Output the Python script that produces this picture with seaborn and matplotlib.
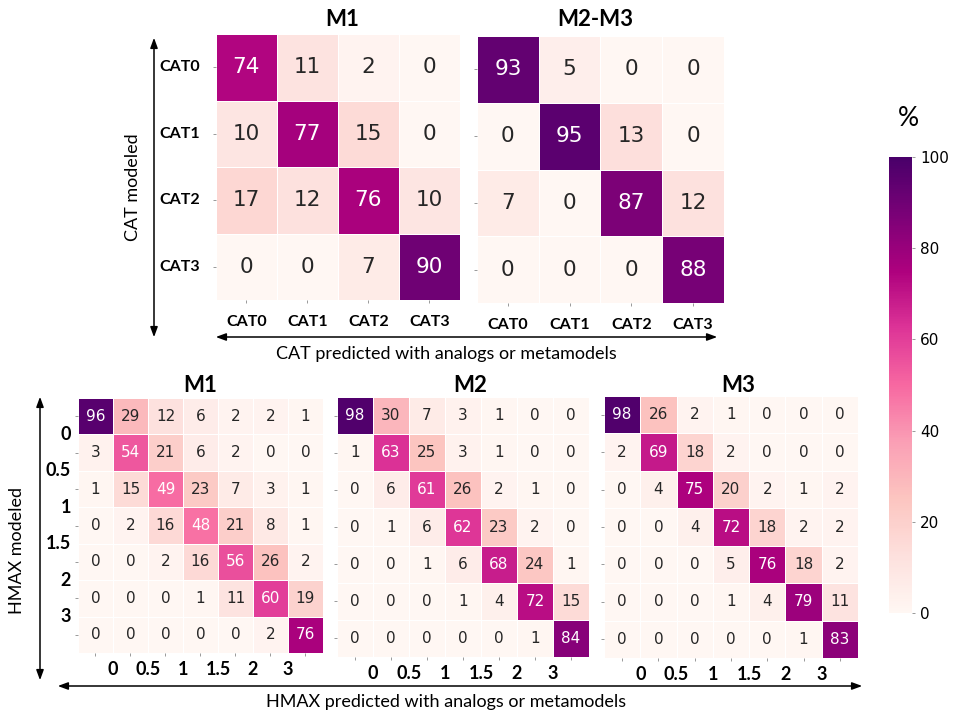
import numpy as np
import pandas as pd
import matplotlib
matplotlib.use('Agg')
import matplotlib.pyplot as plt
from matplotlib.patches import FancyArrowPatch
import seaborn as sns

# Category confusion matrices (%)
cat_labels = ['CAT0', 'CAT1', 'CAT2', 'CAT3']
cat_m1 = [[74, 11, 2, 0],
          [10, 77, 15, 0],
          [17, 12, 76, 10],
          [0, 0, 7, 90]]
cat_m23 = [[93, 5, 0, 0],
           [0, 95, 13, 0],
           [7, 0, 87, 12],
           [0, 0, 0, 88]]

# HMAX confusion matrices (%), labels sit on class boundaries
hmax_bounds = ['0', '0.5', '1', '1.5', '2', '3']
hmax_m1 = [[96, 29, 12, 6, 2, 2, 1],
           [3, 54, 21, 6, 2, 0, 0],
           [1, 15, 49, 23, 7, 3, 1],
           [0, 2, 16, 48, 21, 8, 1],
           [0, 0, 2, 16, 56, 26, 2],
           [0, 0, 0, 1, 11, 60, 19],
           [0, 0, 0, 0, 0, 2, 76]]
hmax_m2 = [[98, 30, 7, 3, 1, 0, 0],
           [1, 63, 25, 3, 1, 0, 0],
           [0, 6, 61, 26, 2, 1, 0],
           [0, 1, 6, 62, 23, 2, 0],
           [0, 0, 1, 6, 68, 24, 1],
           [0, 0, 0, 1, 4, 72, 15],
           [0, 0, 0, 0, 0, 1, 84]]
hmax_m3 = [[98, 26, 2, 1, 0, 0, 0],
           [2, 69, 18, 2, 0, 0, 0],
           [0, 4, 75, 20, 2, 1, 2],
           [0, 0, 4, 72, 18, 2, 2],
           [0, 0, 0, 5, 76, 18, 2],
           [0, 0, 0, 1, 4, 79, 11],
           [0, 0, 0, 0, 0, 1, 83]]

W, H = 954, 720
LAB = 'Lato'


def box(l, t, r, b):
    return [l / W, 1 - b / H, (r - l) / W, (b - t) / H]


def fx(x):
    return x / W


def fy(y):
    return 1 - y / H


fig = plt.figure(figsize=(W / 100, H / 100), dpi=100)

cax = fig.add_axes(box(889, 157, 912, 613))
kw = dict(cmap='RdPu', vmin=0, vmax=100, linewidths=0.6, linecolor='white')

# top row
ax1 = fig.add_axes(box(216, 34, 460, 300))
sns.heatmap(pd.DataFrame(cat_m1, index=cat_labels, columns=cat_labels), ax=ax1,
            annot=True, fmt='d', annot_kws={'size': 15.5}, cbar_ax=cax, **kw)
ax2 = fig.add_axes(box(477, 36, 724, 303))
sns.heatmap(pd.DataFrame(cat_m23, index=cat_labels, columns=cat_labels), ax=ax2,
            annot=True, fmt='d', annot_kws={'size': 15.5}, cbar=False, **kw)
for ax in (ax1, ax2):
    ax.set_xlabel('')
    ax.set_ylabel('')
    ax.tick_params(length=2.5, width=0.7, color='#999999')
    ax.set_xticklabels(cat_labels, rotation=0, fontfamily=LAB, fontweight='bold', fontsize=11.5)
    ax.tick_params(axis='x', pad=8)
ax1.set_yticklabels(cat_labels, rotation=0, fontfamily=LAB, fontweight='bold', fontsize=11.5)
ax1.tick_params(axis='y', pad=9)
ax2.set_yticklabels([])

# bottom row
bottom = []
for mat, rect in [(hmax_m1, box(78, 398, 323, 653)),
                  (hmax_m2, box(337, 397, 589, 657)),
                  (hmax_m3, box(604, 396, 858, 658))]:
    ax = fig.add_axes(rect)
    sns.heatmap(np.array(mat), ax=ax, annot=True, fmt='d', annot_kws={'size': 11},
                cbar=False, **kw)
    ax.set_xticklabels([])
    ax.set_yticklabels([])
    ax.tick_params(which='major', length=2.5, width=0.7, color='#999999')
    ax.set_xticks(np.arange(1, 7), hmax_bounds, minor=True)
    ax.tick_params(axis='x', which='minor', length=0, pad=6)
    for t in ax.get_xticklabels(minor=True):
        t.set_fontfamily(LAB)
        t.set_fontweight('bold')
        t.set_fontsize(13)
    bottom.append(ax)
bm1 = bottom[0]
bm1.set_yticks(np.arange(1, 7), hmax_bounds, minor=True)
bm1.tick_params(axis='y', which='minor', length=0, pad=5)
for t in bm1.get_yticklabels(minor=True):
    t.set_fontfamily(LAB)
    t.set_fontweight('bold')
    t.set_fontsize(13)
    t.set_verticalalignment('center')

# colorbar
cax.tick_params(labelsize=11, length=2.5, width=0.7, color='#999999')
cax.set_yticks([0, 20, 40, 60, 80, 100])
for s in cax.spines.values():
    s.set_visible(False)
fig.text(fx(908), fy(118), '%', ha='center', va='center', fontsize=19, fontfamily=LAB)

# titles
for txt, x, y in [('M1', 342, 19), ('M2-M3', 595, 19),
                  ('M1', 200, 386), ('M2', 470, 386), ('M3', 738, 386)]:
    fig.text(fx(x), fy(y), txt, ha='center', va='center', fontsize=16,
             fontweight='bold', fontfamily=LAB)

# axis arrows and labels


def arrow(x0, y0, x1, y1):
    fig.add_artist(FancyArrowPatch((fx(x0), fy(y0)), (fx(x1), fy(y1)),
                                   transform=fig.transFigure,
                                   arrowstyle='<|-|>,head_length=0.6,head_width=0.22',
                                   mutation_scale=10, color='black', lw=1.1))


arrow(154, 35, 154, 340)
arrow(213, 337, 720, 337)
arrow(40, 394, 40, 683)
arrow(55, 686, 865, 686)

fig.text(fx(133), fy(187), 'CAT modeled', rotation=90, ha='center', va='center',
         fontsize=13, fontfamily=LAB)
fig.text(fx(446), fy(354), 'CAT predicted with analogs or metamodels', ha='center',
         va='center', fontsize=13, fontfamily=LAB)
fig.text(fx(17), fy(550), 'HMAX modeled', rotation=90, ha='center', va='center',
         fontsize=13, fontfamily=LAB)
fig.text(fx(446), fy(702), 'HMAX predicted with analogs or metamodels', ha='center',
         va='center', fontsize=13, fontfamily=LAB)

fig.savefig('out.png', dpi=100)
